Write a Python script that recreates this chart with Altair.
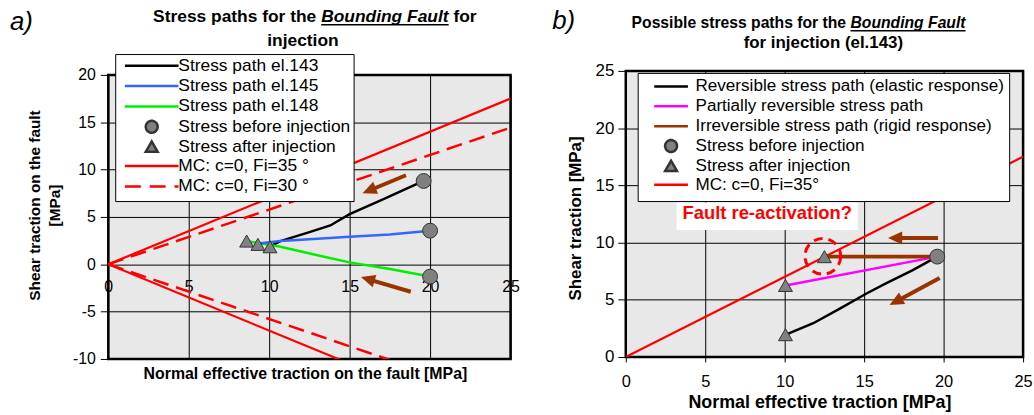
import math
import altair as alt
import pandas as pd

FONT = "Liberation Sans"
BROWN = "#993300"
MK_FILL = "#808080"
MK_STROKE = "#333333"

# ---------------- panel a data ----------------
A_W, A_H = 405, 286
A_XDOM, A_YDOM = [0, 25], [-10, 20]

el143_x = [10.05, 10.7, 12.5, 13.8, 15.0, 17.0, 19.6]
el143_y = [1.9, 2.45, 3.4, 4.1, 5.3, 6.8, 8.8]
el145_x = [9.3, 10.7, 13.0, 15.0, 17.5, 20.0]
el145_y = [2.2, 2.45, 2.7, 2.9, 3.15, 3.55]
el148_x = [8.6, 10.7, 13.0, 15.0, 17.5, 20.0]
el148_y = [2.45, 1.85, 0.95, 0.2, -0.5, -1.3]
before_a_x = [19.6, 20.0, 20.0]
before_a_y = [8.8, 3.55, -1.3]
after_a_x = [8.6, 9.3, 10.05]
after_a_y = [2.45, 2.1, 1.85]
mc_x = [0, 25]
mc35_up = [0, 17.5]
mc35_down = [0, -17.5]
mc30_up = [0, 14.43]
mc30_down = [0, -14.43]
arrA_tail_x = [18.5, 18.8]
arrA_tail_y = [9.4, -2.9]
arrA_tip_x = [15.8, 15.7]
arrA_tip_y = [7.5, -1.35]
ticks_a_x = [0, 5, 10, 15, 20, 25]
ticks_a_y = [-10, -5, 0, 5, 10, 15, 20]

leg_a_labels = ["Stress path el.143", "Stress path el.145", "Stress path el.148",
                "Stress before injection", "Stress after injection",
                "MC: c=0, Fi=35 °", "MC: c=0, Fi=30 °"]

# ---------------- panel b data ----------------
B_W, B_H = 400, 288
B_XDOM, B_YDOM = [0, 25], [0, 25]

rev_x = [10.15, 11.8, 13.5, 15.15, 16.4, 18.0, 19.6]
rev_y = [2.0, 2.95, 4.25, 5.55, 6.45, 7.55, 8.77]
part_x = [10.05, 19.6]
part_y = [6.25, 8.77]
irr_x = [12.5, 19.6]
irr_y = [8.77, 8.77]
before_b_x = [19.6]
before_b_y = [8.77]
after_b_x = [10.05, 10.05, 12.5]
after_b_y = [1.95, 6.25, 8.77]
mcb_x = [0, 25]
mcb_y = [0, 17.5]
react_x = [12.4]
react_y = [8.8]
arrB_tail_x = [19.65, 19.75]
arrB_tail_y = [10.4, 6.9]
arrB_tip_x = [16.5, 16.6]
arrB_tip_y = [10.4, 4.55]
note_text = ["Fault re-activation?"]
note_x = [8.9]
note_y = [12.55]
note_box_x = [3.2, 14.6]
note_box_y = [11.1, 13.5]
ticks_b = [0, 5, 10, 15, 20, 25]

leg_b_labels = ["Reversible stress path (elastic response)", "Partially reversible stress path",
                "Irreversible stress path (rigid response)", "Stress before injection",
                "Stress after injection", "MC: c=0, Fi=35°"]

ONE = pd.DataFrame({"k": [0]})

# Arial Bold advance widths (per 1000 em) for placing title pieces
AB = {' ': 278, '(': 333, ')': 333, '.': 278, '1': 556, '3': 556, '4': 556, 'A': 722, 'B': 722,
      'F': 611, 'P': 667, 'S': 667, 'a': 556, 'b': 611, 'c': 556, 'd': 611, 'e': 556, 'f': 333,
      'g': 611, 'h': 611, 'i': 278, 'j': 278, 'l': 278, 'n': 611, 'o': 611, 'p': 611, 'r': 389,
      's': 556, 't': 333, 'u': 611, 'v': 556}

LABEL_EXPR = "'' + datum.value"


def tw(s, fs):
    return sum(AB.get(c, 556) for c in s) / 1000 * fs


def title_line(pieces, cx, base_y, fs):
    sp = tw(" ", fs)
    widths = [tw(t, fs) for t, _ in pieces]
    total = sum(widths) + sp * (len(pieces) - 1)
    x = cx - total / 2
    out = []
    for (t, emph), w in zip(pieces, widths):
        kw = dict(text=t, align="left", baseline="alphabetic", font=FONT, fontSize=fs,
                  fontWeight="bold", color="black")
        if emph:
            kw["fontStyle"] = "italic"
        out.append(alt.Chart(ONE).mark_text(**kw).encode(x=alt.value(x), y=alt.value(base_y)))
        if emph:
            out.append(alt.Chart(ONE).mark_rule(color="black", strokeWidth=1.4).encode(
                x=alt.value(x), x2=alt.value(x + w), y=alt.value(base_y + 2.5)))
        x += w + sp
    return out


def make_enc(xdom, ydom, xaxis, yaxis):
    def enc(xf="x", yf="y"):
        return dict(
            x=alt.X(xf, type="quantitative", scale=alt.Scale(domain=xdom, nice=False, zero=False), axis=xaxis),
            y=alt.Y(yf, type="quantitative", scale=alt.Scale(domain=ydom, nice=False, zero=False), axis=yaxis),
        )
    return enc


def line_layer(xs, ys, enc, color, width, dash=None):
    df = pd.DataFrame({"x": xs, "y": ys, "i": list(range(len(xs)))})
    kw = dict(color=color, strokeWidth=width, clip=True)
    if dash:
        kw["strokeDash"] = dash
    return alt.Chart(df).mark_line(**kw).encode(order="i:Q", **enc())


def marker_layer(xs, ys, shape, size, enc):
    df = pd.DataFrame({"x": xs, "y": ys})
    return alt.Chart(df).mark_point(shape=shape, size=size, filled=True, fill=MK_FILL, stroke=MK_STROKE,
                                    strokeWidth=1, opacity=1).encode(**enc())


def arrow_layers(tx, ty, hx, hy, enc, xdom, ydom, W, H):
    kx = W / (xdom[1] - xdom[0])
    ky = H / (ydom[1] - ydom[0])
    rows = []
    for x0, y0, x1, y1 in zip(tx, ty, hx, hy):
        dx = (x1 - x0) * kx
        dy = -(y1 - y0) * ky
        L = math.hypot(dx, dy)
        ux, uy = dx / L, dy / L
        ang = math.degrees(math.atan2(ux, -uy)) % 360
        rows.append(dict(x=x0, y=y0, xe=x1 - ux * 8 / kx, ye=y1 + uy * 8 / ky, hx=x1, hy=y1, ang=ang))
    df = pd.DataFrame(rows)
    shaft = alt.Chart(df).mark_rule(color=BROWN, strokeWidth=4).encode(x2="xe:Q", y2="ye:Q", **enc())
    head = alt.Chart(df).mark_point(shape="M0,0L1,2.2L-1,2.2Z", size=169, filled=True, fill=BROWN,
                                    strokeWidth=0, opacity=1).encode(
        angle=alt.Angle("ang:Q", scale=None), **enc("hx", "hy"))
    return [shaft, head]


def legend_layer(names, shapes, strokes, fills, dashes, widths, px, py, enc,
                 lx, ly, sym_off, lab_off, fs, rowpad, pad):
    df = pd.DataFrame({"series": names, "x": [px] * len(names), "y": [py] * len(names)})
    leg = alt.Legend(title=None, orient="none", legendX=lx, legendY=ly, fillColor="white",
                     strokeColor="black", padding=pad, cornerRadius=0, symbolOffset=sym_off,
                     labelOffset=lab_off, labelFont=FONT, labelFontSize=fs, labelColor="black",
                     labelLimit=600, rowPadding=rowpad, symbolSize=144)

    def sc(rng):
        return alt.Scale(domain=names, range=rng)

    return alt.Chart(df).mark_point(size=144, opacity=1, filled=True).encode(
        shape=alt.Shape("series:N", scale=sc(shapes), legend=leg),
        stroke=alt.Stroke("series:N", scale=sc(strokes), legend=leg),
        fill=alt.Fill("series:N", scale=sc(fills), legend=leg),
        strokeDash=alt.StrokeDash("series:N", scale=sc(dashes), legend=leg),
        strokeWidth=alt.StrokeWidth("series:N", scale=sc(widths), legend=leg),
        **enc())


def text_value(t, x, y, fs, style=None, weight=None, color="black"):
    kw = dict(text=t, align="left", baseline="alphabetic", font=FONT, fontSize=fs, color=color)
    if style:
        kw["fontStyle"] = style
    if weight:
        kw["fontWeight"] = weight
    return alt.Chart(ONE).mark_text(**kw).encode(x=alt.value(x), y=alt.value(y))


# ---------------- panel a ----------------
axA_x = alt.Axis(values=ticks_a_x, grid=True, gridColor="black", gridWidth=1, gridOpacity=1,
                 domain=False, ticks=False, offset=-A_H * 10 / 30, labelPadding=14, labelFont=FONT,
                 labelFontSize=16, labelColor="black", labelFlush=False, labelOverlap=False,
                 labelExpr=LABEL_EXPR,
                 title="Normal effective traction on the fault [MPa]", titleFont=FONT, titleFontSize=16,
                 titleFontWeight="bold", titleColor="black", titleX=198, titleY=102)
axA_y = alt.Axis(values=ticks_a_y, grid=True, gridColor="black", gridWidth=1, gridOpacity=1,
                 domain=False, ticks=True, tickColor="black", tickSize=8, labelPadding=5, labelFont=FONT,
                 labelFontSize=16, labelColor="black", labelFlush=False, labelOverlap=False,
                 labelExpr=LABEL_EXPR,
                 title=["Shear traction on the fault", "[MPa]"], titleFont=FONT, titleFontSize=15.5,
                 titleFontWeight="bold", titleColor="black", titleX=-66, titleY=131, titleLineHeight=20)
encA = make_enc(A_XDOM, A_YDOM, axA_x, axA_y)

LINE_A = "M-4.5,0L4.5,0M0,-1L0,-1M0,1L0,1"
layers_a = [
    line_layer(mc_x, mc35_up, encA, "red", 2.2),
    line_layer(mc_x, mc35_down, encA, "red", 2.2),
    line_layer(mc_x, mc30_up, encA, "red", 2.5, dash=[16, 8]),
    line_layer(mc_x, mc30_down, encA, "red", 2.5, dash=[16, 8]),
    line_layer(el143_x, el143_y, encA, "black", 2.5),
    line_layer(el148_x, el148_y, encA, "#00ee00", 2.5),
    line_layer(el145_x, el145_y, encA, "#3366ff", 2.5),
    *arrow_layers(arrA_tail_x, arrA_tail_y, arrA_tip_x, arrA_tip_y, encA, A_XDOM, A_YDOM, A_W, A_H),
    marker_layer(before_a_x, before_a_y, "circle", 225, encA),
    marker_layer(after_a_x, after_a_y, "triangle-up", 196, encA),
    legend_layer(leg_a_labels,
                 [LINE_A, LINE_A, LINE_A, "circle", "triangle-up", LINE_A, LINE_A],
                 ["black", "#3366ff", "#00ee00", MK_STROKE, MK_STROKE, "red", "red"],
                 ["transparent"] * 3 + [MK_FILL] * 2 + ["transparent"] * 2,
                 [[1, 0]] * 6 + [[16, 9]],
                 [2.5, 2.5, 2.5, 1, 1, 2.5, 2.5],
                 3, 17, encA, 7, -21, 25, 18, 17.5, -2.5, 3),
    *title_line([("Stress paths for the", False), ("Bounding Fault", True), ("for", False)], 208, -53, 17.5),
    *title_line([("injection", False)], 196, -29, 17.5),
    text_value("a)", -99, -45, 26, style="italic"),
]
panel_a = alt.layer(*layers_a).properties(width=A_W, height=A_H)

# ---------------- panel b ----------------
axB_x = alt.Axis(values=ticks_b, grid=True, gridColor="black", gridWidth=1, gridOpacity=1,
                 domain=False, ticks=True, tickColor="black", tickSize=5, labelPadding=12, labelFont=FONT,
                 labelFontSize=16.5, labelColor="black", labelFlush=False, labelOverlap=False,
                 labelExpr=LABEL_EXPR,
                 title="Normal effective traction [MPa]", titleFont=FONT, titleFontSize=18,
                 titleFontWeight="bold", titleColor="black", titleX=195, titleY=37)
axB_y = alt.Axis(values=ticks_b, grid=True, gridColor="black", gridWidth=1, gridOpacity=1,
                 domain=False, ticks=True, tickColor="black", tickSize=8, labelPadding=4, labelFont=FONT,
                 labelFontSize=17, labelColor="black", labelFlush=False, labelOverlap=False,
                 labelExpr=LABEL_EXPR,
                 title="Shear traction [MPa]", titleFont=FONT, titleFontSize=17,
                 titleFontWeight="bold", titleColor="black", titleX=-42, titleY=148)
encB = make_enc(B_XDOM, B_YDOM, axB_x, axB_y)

LINE_B = "M-2.83,0L2.83,0M0,-1L0,-1M0,1L0,1"
note_df = pd.DataFrame({"x": note_box_x[:1], "x2": note_box_x[1:], "y": note_box_y[:1], "y2": note_box_y[1:]})
layers_b = [
    line_layer(mcb_x, mcb_y, encB, "red", 2.2),
    alt.Chart(note_df).mark_rect(color="white").encode(x2="x2:Q", y2="y2:Q", **encB()),
    alt.Chart(pd.DataFrame({"x": note_x, "y": note_y, "t": note_text})).mark_text(
        font=FONT, fontSize=18.5, fontWeight="bold", color="red", align="center", baseline="middle").encode(
        text="t:N", **encB()),
    line_layer(rev_x, rev_y, encB, "black", 2.5),
    line_layer(part_x, part_y, encB, "#ff00ff", 2.5),
    line_layer(irr_x, irr_y, encB, BROWN, 4),
    *arrow_layers(arrB_tail_x, arrB_tail_y, arrB_tip_x, arrB_tip_y, encB, B_XDOM, B_YDOM, B_W, B_H),
    marker_layer(before_b_x, before_b_y, "circle", 225, encB),
    marker_layer(after_b_x, after_b_y, "triangle-up", 196, encB),
    alt.Chart(pd.DataFrame({"x": react_x, "y": react_y})).mark_point(
        shape="circle", size=1296, filled=False, stroke="red", strokeWidth=3, strokeDash=[9, 6],
        opacity=1).encode(**encB()),
    legend_layer(leg_b_labels,
                 [LINE_B, LINE_B, LINE_B, "circle", "triangle-up", LINE_B],
                 ["black", "#ff00ff", BROWN, MK_STROKE, MK_STROKE, "red"],
                 ["transparent"] * 3 + [MK_FILL] * 2 + ["transparent"],
                 [[1, 0]] * 6,
                 [2.5, 2.5, 4, 1, 1, 2.5],
                 10, 20, encB, 12, 2, 20, 16, 17.2, -6, 5),
    *title_line([("Possible stress paths for the", False), ("Bounding Fault", True)], 174, -43, 15.8),
    *title_line([("for injection (el.143)", False)], 199, -23, 17),
    text_value("b)", -74, -42, 26, style="italic"),
]
panel_b = alt.layer(*layers_b).properties(width=B_W, height=B_H)

IND = dict(x="independent", y="independent", shape="independent", stroke="independent",
           fill="independent", strokeDash="independent", strokeWidth="independent")
IND_L = dict(shape="independent", stroke="independent", fill="independent",
             strokeDash="independent", strokeWidth="independent")


def spacer():
    return alt.Chart(ONE).mark_point(opacity=0, size=1).encode(
        x=alt.value(0), y=alt.value(0)).properties(
        width=1, height=1, view=alt.ViewBackground(stroke="transparent", fill="transparent", strokeWidth=0))


wrap_a = alt.vconcat(spacer(), panel_a, spacing=0).resolve_scale(**IND).resolve_legend(**IND_L)
wrap_b = alt.vconcat(spacer(), panel_b, spacing=0).resolve_scale(**IND).resolve_legend(**IND_L)

chart = alt.hconcat(wrap_a, wrap_b, spacing=29).resolve_scale(**IND).resolve_legend(**IND_L).properties(
    padding={"left": 8, "top": 3, "right": 0, "bottom": 0}).configure_view(
    stroke="black", strokeWidth=2.5, fill="#e8e8e8")

chart.save("out.html", embed_options={"renderer": "svg", "actions": False})
